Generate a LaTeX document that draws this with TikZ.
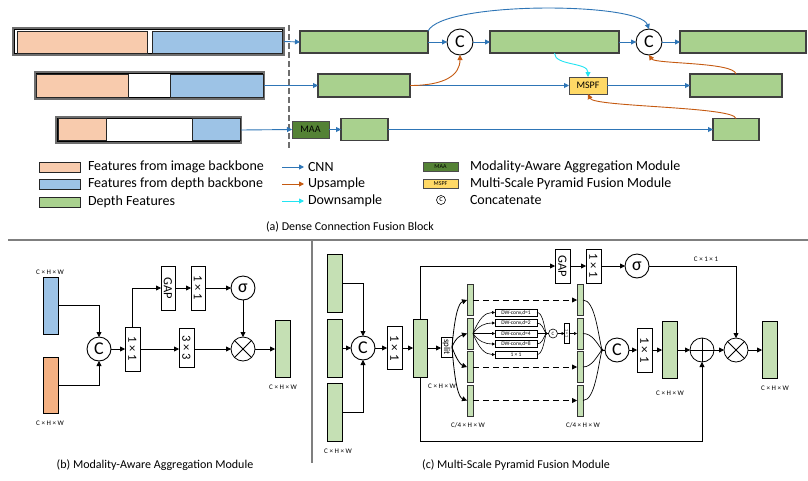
\documentclass[tikz,border=0pt]{standalone}
\usepackage{fontspec}
\usepackage{graphicx}
\setmainfont{Carlito}
\usetikzlibrary{arrows.meta}

\definecolor{imgfeat}{HTML}{F8CBAD}
\definecolor{dptfeat}{HTML}{9DC3E6}
\definecolor{fusfeat}{HTML}{A9D18E}
\definecolor{maacol}{HTML}{548235}
\definecolor{mspfcol}{HTML}{FFD966}
\definecolor{cnnblue}{HTML}{2E75B6}
\definecolor{uporange}{HTML}{C55A11}
\definecolor{downcyan}{HTML}{22E4F2}
\definecolor{lightgreen}{HTML}{C5E0B4}
\definecolor{rgbpeach}{HTML}{F4B183}
\definecolor{framegray}{HTML}{6E6E6E}
\definecolor{rulegray}{HTML}{7F7F7F}

\begin{document}
\begin{tikzpicture}[x=1pt,y=-1pt,
  every node/.append style={inner sep=0pt, outer sep=0pt},
  fs/.style={font=\fontsize{#1}{#1}\selectfont},
  wrapbox/.style={rectangle, draw=framegray, line width=1.8pt, fill=white,
    path picture={\draw[black, line width=0.6pt]
      ([shift={(1.3pt,-1.3pt)}]path picture bounding box.north west) rectangle
      ([shift={(-1.3pt,1.3pt)}]path picture bounding box.south east);}},
  featrect/.style={rectangle, draw=black!85, line width=0.9pt, fill=#1},
  grect/.style={rectangle, draw=black!75, line width=1.1pt, fill=fusfeat},
  modbox/.style={rectangle, draw=black!70, line width=0.8pt, fill=#1, fs=10},
  catc/.style={circle, draw=black, line width=0.9pt, fill=white, minimum size=26pt, fs=18},
  cnn/.style={draw=cnnblue, line width=0.9pt, -{Triangle[length=5pt,width=5pt]}},
  ups/.style={draw=uporange, line width=0.9pt, -{Triangle[length=5pt,width=5pt]}},
  dws/.style={draw=downcyan, line width=0.9pt, -{Triangle[length=5pt,width=5pt]}},
  legtext/.style={anchor=west, fs=14},
  captext/.style={fs=12},
  vbar/.style={rectangle, draw=black, line width=0.8pt, fill=#1},
  qbar/.style={rectangle, draw=black!80, line width=0.6pt, fill=lightgreen, minimum width=6pt, minimum height=31pt},
  opbox/.style={rectangle, draw=black, line width=0.8pt, fill=white},
  dimlbl/.style={fs=7},
  blk/.style={draw=black, line width=0.8pt, -{Triangle[length=5pt,width=5pt]}},
  smallarr/.style={draw=black, line width=0.6pt, -{Triangle[length=3pt,width=3pt]}},
  dasharr/.style={draw=black, line width=0.8pt, dash pattern=on 6pt off 4pt, -{Triangle[length=5pt,width=5pt]}},
  otimesc/.style={circle, draw=black, line width=0.8pt, fill=white, minimum size=24pt,
    path picture={\draw[line width=0.8pt]
      (path picture bounding box.north west)--(path picture bounding box.south east)
      (path picture bounding box.south west)--(path picture bounding box.north east);}},
  opluscirc/.style={circle, draw=black, line width=0.8pt, fill=white, minimum size=24pt,
    path picture={\draw[line width=0.8pt]
      (path picture bounding box.north)--(path picture bounding box.south)
      (path picture bounding box.west)--(path picture bounding box.east);}},
  dwbox/.style={rectangle, draw=black, line width=0.6pt, fill=white, minimum width=42pt, minimum height=7pt, fs=5.5},
  blackdot/.style={circle, fill=black, minimum size=3.2pt},
]
\fill[white] (0,0) rectangle (808,480);
\useasboundingbox (0,0) rectangle (808,480);

%% ---------------- (a) Dense Connection Fusion Block ----------------
% stacked backbone features
\node[wrapbox, minimum width=271pt, minimum height=27pt] (w1) at (148.5,41.5) {};
\node[featrect=imgfeat, minimum width=130pt, minimum height=22pt] (w1i) at (82,42) {};
\node[featrect=dptfeat, minimum width=130pt, minimum height=22pt] (w1d) at (217,42) {};
\node[wrapbox, minimum width=229pt, minimum height=27pt] (w2) at (149.5,85.5) {};
\node[featrect=imgfeat, minimum width=92pt, minimum height=23pt] (w2i) at (82,85.5) {};
\node[featrect=dptfeat, minimum width=93pt, minimum height=23pt] (w2d) at (216.5,85.5) {};
\node[wrapbox, minimum width=185pt, minimum height=26pt] (w3) at (148.5,130) {};
\node[featrect=imgfeat, minimum width=48pt, minimum height=22pt] (w3i) at (82,129.5) {};
\node[featrect=dptfeat, minimum width=48pt, minimum height=22pt] (w3d) at (216,129.5) {};

\coordinate (sepTop) at (289,25);
\coordinate (sepBot) at (289,148);
\draw[framegray, line width=1.3pt, dash pattern=on 6pt off 3pt] (sepTop) -- (sepBot);

% depth feature maps
\node[grect, minimum width=128pt, minimum height=22pt] (g1) at (364,42) {};
\node[catc] (c1) at (460,42) {C};
\node[grect, minimum width=129pt, minimum height=22pt] (g2) at (554.5,42) {};
\node[catc] (c2) at (649,42) {C};
\node[grect, minimum width=126pt, minimum height=22pt] (g3) at (743,42) {};
\node[grect, minimum width=92pt, minimum height=23pt] (ga) at (364,85.5) {};
\node[modbox=mspfcol, minimum width=38pt, minimum height=17pt] (mspf) at (588,85.5) {MSPF};
\node[grect, minimum width=92pt, minimum height=23pt] (gb) at (736,85.5) {};
\node[modbox=maacol, minimum width=37pt, minimum height=17pt] (maa) at (310.5,129.5) {MAA};
\node[grect, minimum width=47pt, minimum height=22pt] (gc) at (364.5,129.5) {};
\node[grect, minimum width=46pt, minimum height=22pt] (gd) at (736,129.5) {};

\draw[cnn] (w1.east) -- (g1.west);
\draw[cnn] (g1.east) -- (c1.west);
\draw[cnn] (c1.east) -- (g2.west);
\draw[cnn] (g2.east) -- (c2.west);
\draw[cnn] (c2.east) -- (g3.west);
\draw[cnn] (w2.east) -- (ga.west);
\draw[cnn] (ga.east) -- (mspf.west);
\draw[cnn] (mspf.east) -- (gb.west);
\draw[cnn] (w3.east) -- (maa.west);
\draw[cnn] (maa.east) -- (gc.west);
\draw[cnn] (gc.east) -- (gd.west);
\draw[cnn] (g1.north east) .. controls +(15,-30) and +(-10,-27) .. (c2.north);
\draw[ups] (ga.east) .. controls +(35,0) and +(0,20) .. (c1.south);
\draw[ups] (gb.north) .. controls +(-2,-12) and +(6,9) .. (c2.south);
\draw[ups] (gd.north) .. controls +(-2,-12) and +(6,13) .. (mspf.south);
\draw[dws] (g2.south) .. controls +(0,13) and +(0,-15) .. (mspf.north);

% legend
\node[featrect=imgfeat, minimum width=41pt, minimum height=10pt] (sw1) at (59.5,167) {};
\node[legtext] (lt1) at (88,167) {Features from image backbone};
\node[featrect=dptfeat, minimum width=41pt, minimum height=10pt] (sw2) at (59.5,184) {};
\node[legtext] (lt2) at (88,184) {Features from depth backbone};
\node[featrect=fusfeat, minimum width=41pt, minimum height=10pt] (sw3) at (59.5,202) {};
\node[legtext] (lt3) at (88,202) {Depth Features};
\coordinate (la1) at (282,167); \coordinate (lb1) at (304,167);
\coordinate (la2) at (282,184); \coordinate (lb2) at (304,184);
\coordinate (la3) at (282,201); \coordinate (lb3) at (304,201);
\draw[cnn] (la1) -- (lb1);
\draw[ups] (la2) -- (lb2);
\draw[dws] (la3) -- (lb3);
\node[legtext] (lt4) at (308,167) {CNN};
\node[legtext] (lt5) at (308,184) {Upsample};
\node[legtext] (lt6) at (308,201) {Downsample};
\node[modbox=maacol, minimum width=35pt, minimum height=9pt, fs=6] (lmaa) at (440.5,166.5) {MAA};
\node[modbox=mspfcol, minimum width=35pt, minimum height=9pt, fs=6] (lmspf) at (440.5,183.5) {MSPF};
\node[circle, draw=black, line width=0.6pt, minimum size=9pt, fs=8] (lcat) at (441,200) {c};
\node[legtext] (lt7) at (470,166.5) {Modality-Aware Aggregation Module};
\node[legtext] (lt8) at (470,183.5) {Multi-Scale Pyramid Fusion Module};
\node[legtext] (lt9) at (470,200) {Concatenate};
\node[captext] (capa) at (350,227) {(a) Dense Connection Fusion Block};

% panel rules
\coordinate (ruleL) at (8,240); \coordinate (ruleR) at (808,240);
\coordinate (ruleM) at (312,240); \coordinate (ruleB) at (312,463);
\draw[rulegray, line width=1.5pt] (ruleL) -- (ruleR);
\draw[rulegray, line width=1.2pt] (ruleM) -- (ruleB);

%% ---------------- (b) Modality-Aware Aggregation Module ----------------
\node[vbar=dptfeat, minimum width=15pt, minimum height=57pt] (bdep) at (50.5,305.5) {};
\node[vbar=rgbpeach, minimum width=15pt, minimum height=56pt] (bimg) at (50.5,385) {};
\node[dimlbl] (bl1) at (50,272) {C × H × W};
\node[dimlbl] (bl2) at (50,423) {C × H × W};
\node[catc, minimum size=24pt] (bcat) at (99,349) {C};
\node[opbox, minimum width=15pt, minimum height=44pt, fs=12.5] (bconv1) at (132.5,349) {\rotatebox{-90}{1 × 1}};
\node[opbox, minimum width=14pt, minimum height=44pt, fs=12.5] (bgap) at (168,288) {\rotatebox{-90}{GAP}};
\node[opbox, minimum width=14pt, minimum height=44pt, fs=12.5] (bconv2) at (198,288) {\rotatebox{-90}{1 × 1}};
\node[catc, minimum size=24pt] (bsig) at (243,288) {σ};
\node[opbox, minimum width=15pt, minimum height=39pt, fs=12.5] (bconv3) at (186.5,348) {\rotatebox{-90}{3 × 3}};
\node[otimesc] (bmul) at (243,349) {};
\node[vbar=lightgreen, minimum width=15pt, minimum height=57pt] (bout) at (282.5,349) {};
\node[dimlbl] (bl3) at (283,387) {C × H × W};

\draw[blk] (bdep.east) -| (bcat.north);
\draw[blk] (bimg.east) -| (bcat.south);
\draw[blk] (bcat.east) -- (bconv1.west);
\draw[blk] (bconv1.north) |- (bgap.west);
\draw[blk] (bgap.east) -- (bconv2.west);
\draw[blk] (bconv2.east) -- (bsig.west);
\draw[blk] (bconv1.east) -- (bconv1.east -| bconv3.west);
\draw[blk] (bconv3.east |- bmul.west) -- (bmul.west);
\draw[blk] (bsig.south) -- (bmul.north);
\draw[blk] (bmul.east) -- (bout.west);
\node[captext] (capb) at (155,465) {(b) Modality-Aware Aggregation Module};

%% ---------------- (c) Multi-Scale Pyramid Fusion Module ----------------
\node[vbar=lightgreen, minimum width=15pt, minimum height=58pt] (cin1) at (334.5,283) {};
\node[vbar=lightgreen, minimum width=15pt, minimum height=58pt] (cin2) at (334.5,348) {};
\node[vbar=lightgreen, minimum width=15pt, minimum height=58pt] (cin3) at (334.5,412) {};
\node[dimlbl] (cl1) at (338,451) {C × H × W};
\node[catc, minimum size=24pt] (ccat) at (363,348) {C};
\node[opbox, minimum width=15pt, minimum height=43pt, fs=13] (cconv1) at (394.5,348) {\rotatebox{-90}{1 × 1}};
\node[vbar=lightgreen, minimum width=14pt, minimum height=58pt] (cmid) at (420,348) {};
\node[dimlbl] (cl2) at (442,386) {C × H × W};
\node[opbox, minimum width=11pt, minimum height=20pt, fs=9] (csplit) at (446.5,347) {\rotatebox{-90}{split}};

% quarter-channel groups
\node[qbar] (qa) at (470,300) {};
\node[qbar] (qb) at (470,333.5) {};
\node[qbar] (qc) at (470,367) {};
\node[qbar] (qd) at (470,400.5) {};
\node[qbar] (ra) at (580,300) {};
\node[qbar] (rb) at (580,333.5) {};
\node[qbar] (rc) at (580,367) {};
\node[qbar] (rd) at (580,400.5) {};
\node[dimlbl] (cl3) at (468,425) {C/4 × H × W};
\node[dimlbl] (cl4) at (583,425) {C/4 × H × W};

% pyramid of dilated depth-wise convolutions
\node[dwbox] (dw1) at (516,312.5) {DW-conv,d=1};
\node[dwbox] (dw2) at (516,323) {DW-conv,d=2};
\node[dwbox] (dw3) at (516,333.5) {DW-conv,d=4};
\node[dwbox] (dw4) at (516,344) {DW-conv,d=8};
\node[dwbox] (dw5) at (516,354.5) {1 × 1};
\node[blackdot] (dot1) at (546,333.5) {};
\node[circle, draw=black, line width=0.6pt, fill=white, minimum size=9pt, fs=5] (scat) at (553,333.5) {C};
\node[opbox, line width=0.6pt, minimum width=5pt, minimum height=20pt, fs=4] (sconv) at (567,333.5) {\rotatebox{-90}{1 × 1}};

% channel attention branch and output
\node[opbox, minimum width=15pt, minimum height=34pt, fs=12.5] (cgap) at (562.5,266) {\rotatebox{-90}{GAP}};
\node[opbox, minimum width=15pt, minimum height=34pt, fs=12.5] (cconv2) at (593.5,266) {\rotatebox{-90}{1 × 1}};
\node[catc, minimum size=24pt] (csig) at (637,266) {σ};
\node[dimlbl] (cl5) at (706,259) {C × 1 × 1};
\node[blackdot] (dot2) at (602,350) {};
\node[catc, minimum size=24pt] (cbig) at (617,350) {C};
\node[opbox, minimum width=15pt, minimum height=44pt, fs=13] (cconv3) at (644.5,350) {\rotatebox{-90}{1 × 1}};
\node[vbar=lightgreen, minimum width=15pt, minimum height=57pt] (cE) at (669.5,350) {};
\node[dimlbl] (cl6) at (670,393) {C × H × W};
\node[opluscirc] (cplus) at (702,350) {};
\node[otimesc] (ctimes) at (736,350) {};
\node[vbar=lightgreen, minimum width=15pt, minimum height=57pt] (cF) at (769.5,350) {};
\node[dimlbl] (cl7) at (775,388) {C × H × W};
\coordinate (cbot) at (420,441);

\draw[blk] (cin1.east) -| (ccat.north);
\draw[blk] (cin2.east) -- (ccat.west);
\draw[blk] (cin3.east) -| (ccat.south);
\draw[blk] (ccat.east) -- (cconv1.west);
\draw[blk] (cconv1.east) -- (cmid.west);
\draw[blk] (cmid.east) -- (cmid.east -| csplit.west);
\draw[blk] (cmid.north) |- (cgap.west);
\draw[blk] (cgap.east) -- (cconv2.west);
\draw[blk] (cconv2.east) -- (csig.west);
\draw[blk] (csig.east) -| (ctimes.north);
\draw[blk] (cmid.south) -- (cbot) -| (cplus.south);

\draw[blk] (csplit.east) .. controls +(3,-35) and +(-8,3) .. (qa.west);
\draw[blk] (csplit.east) .. controls +(4,-10) and +(-6,2) .. (qb.west);
\draw[blk] (csplit.east) .. controls +(4,12) and +(-6,-2) .. (qc.west);
\draw[blk] (csplit.east) .. controls +(3,40) and +(-8,-3) .. (qd.west);

\draw[dasharr] (qa.east) -- (ra.west);
\draw[dasharr] (qc.east) -- (rc.west);
\draw[dasharr] (qd.east) -- (rd.west);

\draw[smallarr] (qb.east) .. controls +(6,-15) and +(-10,0) .. (dw1.west);
\draw[smallarr] (qb.east) .. controls +(6,-8) and +(-10,0) .. (dw2.west);
\draw[smallarr] (qb.east) -- (dw3.west);
\draw[smallarr] (qb.east) .. controls +(6,8) and +(-10,0) .. (dw4.west);
\draw[smallarr] (qb.east) .. controls +(6,15) and +(-10,0) .. (dw5.west);
\draw[line width=0.6pt] (dw1.east) .. controls +(5,0) and +(-2,-10) .. (dot1.center);
\draw[line width=0.6pt] (dw2.east) .. controls +(5,0) and +(-3,-5) .. (dot1.center);
\draw[line width=0.6pt] (dw3.east) -- (dot1.center);
\draw[line width=0.6pt] (dw4.east) .. controls +(5,0) and +(-3,5) .. (dot1.center);
\draw[line width=0.6pt] (dw5.east) .. controls +(5,0) and +(-2,10) .. (dot1.center);
\draw[line width=0.6pt] (dot1.center) -- (scat.west);
\draw[smallarr] (scat.east) -- (sconv.west);
\draw[smallarr] (sconv.east) -- (rb.west);

\draw[line width=0.7pt] (ra.east) .. controls +(12,0) and +(-4,-16) .. (dot2.center);
\draw[line width=0.7pt] (rb.east) .. controls +(9,0) and +(-5,-7) .. (dot2.center);
\draw[line width=0.7pt] (rc.east) .. controls +(9,0) and +(-5,6) .. (dot2.center);
\draw[line width=0.7pt] (rd.east) .. controls +(12,0) and +(-4,16) .. (dot2.center);
\draw[line width=0.8pt] (dot2.center) -- (cbig.west);

\draw[blk] (cbig.east) -- (cconv3.west);
\draw[blk] (cconv3.east) -- (cE.west);
\draw[blk] (cE.east) -- (cplus.west);
\draw[blk] (cplus.east) -- (ctimes.west);
\draw[blk] (ctimes.east) -- (cF.west);
\node[captext] (capc) at (516,465) {(c) Multi-Scale Pyramid Fusion Module};
\end{tikzpicture}
\end{document}
